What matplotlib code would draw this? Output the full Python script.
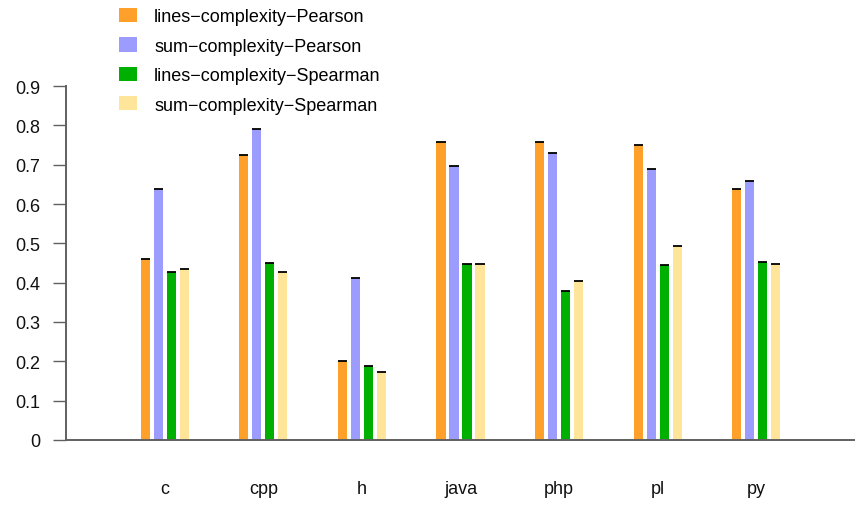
import numpy as np
import matplotlib
matplotlib.use("Agg")
import matplotlib.pyplot as plt

plt.rcParams['font.family'] = ['Liberation Sans', 'DejaVu Sans']
plt.rcParams['axes.unicode_minus'] = True

# Correlation coefficients per file extension
languages = ['c', 'cpp', 'h', 'java', 'php', 'pl', 'py']
lines_pearson = [0.459, 0.724, 0.200, 0.757, 0.757, 0.751, 0.639]
sum_pearson = [0.638, 0.790, 0.412, 0.697, 0.729, 0.690, 0.658]
lines_spearman = [0.428, 0.451, 0.187, 0.447, 0.378, 0.446, 0.453]
sum_spearman = [0.436, 0.426, 0.172, 0.447, 0.404, 0.492, 0.447]

series = [
    ('lines\u2212complexity\u2212Pearson', lines_pearson, '#FFA02A'),
    ('sum\u2212complexity\u2212Pearson', sum_pearson, '#9C9CFF'),
    ('lines\u2212complexity\u2212Spearman', lines_spearman, '#00B000'),
    ('sum\u2212complexity\u2212Spearman', sum_spearman, '#FFE599'),
]

fig = plt.figure(figsize=(8.55, 5.06), dpi=100)
ax = fig.add_axes([0.0772, 0.1285, 0.9228, 0.6995])

x = np.arange(1, len(languages) + 1)
width = 0.092
step = 0.132
for i, (label, vals, color) in enumerate(series):
    pos = x + (i - 1.5) * step
    ax.bar(pos, vals, width=width, color=color, label=label, zorder=2)
    # thin black cap on top of each bar
    ax.hlines(vals, pos - width / 2, pos + width / 2, colors='black',
              linewidth=1.3, zorder=3)

ax.set_xlim(0, 8)
ax.set_ylim(0, 0.9)
ax.set_yticks(np.arange(0, 0.91, 0.1))
ax.set_yticklabels(['0'] + ['%.1f' % v for v in np.arange(0.1, 0.91, 0.1)])
ax.set_xticks(x)
ax.set_xticklabels(languages)

for side in ['top', 'right']:
    ax.spines[side].set_visible(False)
for side in ['left', 'bottom']:
    ax.spines[side].set_color('#606060')
    ax.spines[side].set_linewidth(1.4)

ax.tick_params(axis='y', length=9.5, width=1.0, color='#606060', pad=9,
               labelsize=13, labelcolor='#111111')
ax.tick_params(axis='x', length=0, pad=29, labelsize=13, labelcolor='#111111')

ax.legend(loc='upper left', bbox_to_anchor=(119 / 855, 1 - 9 / 506),
          bbox_transform=fig.transFigure, frameon=False, fontsize=13,
          handlelength=1.0, handleheight=0.83, handletextpad=0.95,
          labelspacing=0.67, borderpad=0, borderaxespad=0)

fig.savefig('out.png', dpi=100)
